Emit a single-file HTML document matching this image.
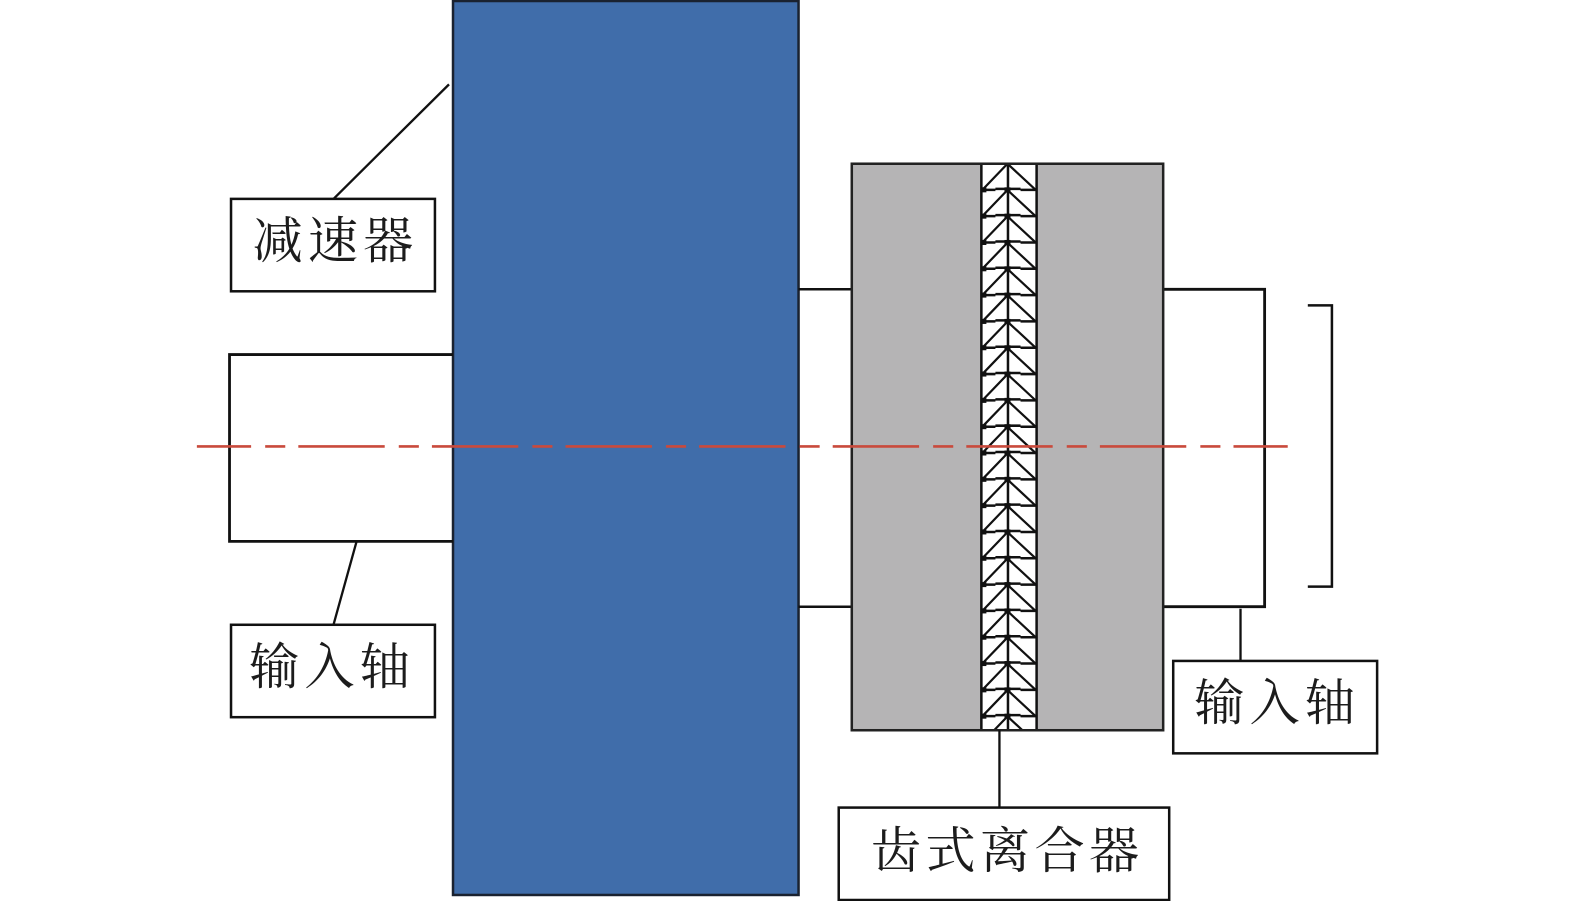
<!DOCTYPE html>
<html lang="zh">
<head>
<meta charset="utf-8">
<style>
html,body{margin:0;padding:0;background:#fff;width:1575px;height:901px;overflow:hidden}
svg{display:block;position:absolute;left:0;top:0}
text{font-family:"Liberation Serif","Noto Serif CJK SC",serif;font-size:50px;fill:#1c1c1c;letter-spacing:5px}
</style>
</head>
<body>
<svg width="1575" height="901" viewBox="0 0 1568 897" preserveAspectRatio="none" xmlns="http://www.w3.org/2000/svg">
<defs>
<clipPath id="strip"><rect x="977" y="163" width="55" height="564"/></clipPath>
<g id="tooth" fill="none" stroke="#111" stroke-width="2.200">
<path d="M1003 0 L978 26 M1003 0 L1031 26"/>
<path d="M978 26 H991 M1016 26 H1031 M991 25 H1016" stroke-width="2.500"/>
<rect x="1000" y="23.500" width="6" height="5" fill="#111" stroke="none"/>
<rect x="976" y="23.500" width="6" height="5" fill="#111" stroke="none"/>
</g>
</defs>
<rect width="1568" height="897" fill="#fff"/>

<!-- reducer -->
<rect x="451" y="1" width="344" height="890" fill="#406daa" stroke="#1a2230" stroke-width="2.500"/>

<!-- left shaft -->
<path d="M451 353 H228.500 V539 H451" fill="none" stroke="#111" stroke-width="2.800"/>

<!-- connecting shaft -->
<path d="M795 288 H848 M795 604 H848" fill="none" stroke="#111" stroke-width="2.500"/>

<!-- right shaft -->
<path d="M1158 288 H1259 V604 H1158" fill="none" stroke="#111" stroke-width="2.800"/>

<!-- clutch -->
<rect x="848" y="163" width="310" height="564" fill="#b5b4b5" stroke="#222" stroke-width="2.500"/>
<rect x="977" y="163" width="55" height="564" fill="#fff"/>
<g clip-path="url(#strip)">
<use href="#tooth" y="163"/><use href="#tooth" y="189.200"/><use href="#tooth" y="215.400"/><use href="#tooth" y="241.600"/>
<use href="#tooth" y="267.800"/><use href="#tooth" y="294"/><use href="#tooth" y="320.200"/><use href="#tooth" y="346.400"/>
<use href="#tooth" y="372.600"/><use href="#tooth" y="398.800"/><use href="#tooth" y="425"/><use href="#tooth" y="451.200"/>
<use href="#tooth" y="477.400"/><use href="#tooth" y="503.600"/><use href="#tooth" y="529.800"/><use href="#tooth" y="556"/>
<use href="#tooth" y="582.200"/><use href="#tooth" y="608.400"/><use href="#tooth" y="634.600"/><use href="#tooth" y="660.800"/>
<use href="#tooth" y="687"/><use href="#tooth" y="713.200"/>
</g>
<path d="M977 163 V727 M1032 163 V727 M1003.500 163 V727" fill="none" stroke="#111" stroke-width="2.500"/>
<path d="M848 163 H1158 M848 727 H1158" fill="none" stroke="#222" stroke-width="2.500"/>

<!-- bracket -->
<path d="M1302 304 H1326 V584 H1302" fill="none" stroke="#111" stroke-width="2.500"/>

<!-- leaders -->
<path d="M447 84 L332 198 M355 539 L332 622 M1235 606 V658 M995 727 V804" fill="none" stroke="#111" stroke-width="2.300"/>

<!-- label boxes -->
<rect x="230" y="198" width="203" height="92" fill="#fff" stroke="#111" stroke-width="2.500"/>
<rect x="230" y="622" width="203" height="92" fill="#fff" stroke="#111" stroke-width="2.500"/>
<rect x="1168" y="658" width="203" height="92" fill="#fff" stroke="#111" stroke-width="2.500"/>
<rect x="835" y="804" width="329" height="92" fill="#fff" stroke="#111" stroke-width="2.500"/>

<text x="251.500" y="257">减速器</text>
<text x="248" y="681">输入轴</text>
<text x="1189" y="717">输入轴</text>
<text x="867" y="864" style="letter-spacing:4.300px">齿式离合器</text>

<!-- center line -->
<path d="M196 444.500 H1282" fill="none" stroke="#c94a3c" stroke-width="2.600" stroke-dasharray="86 14 20 13" stroke-dashoffset="32"/>
</svg>
</body>
</html>
